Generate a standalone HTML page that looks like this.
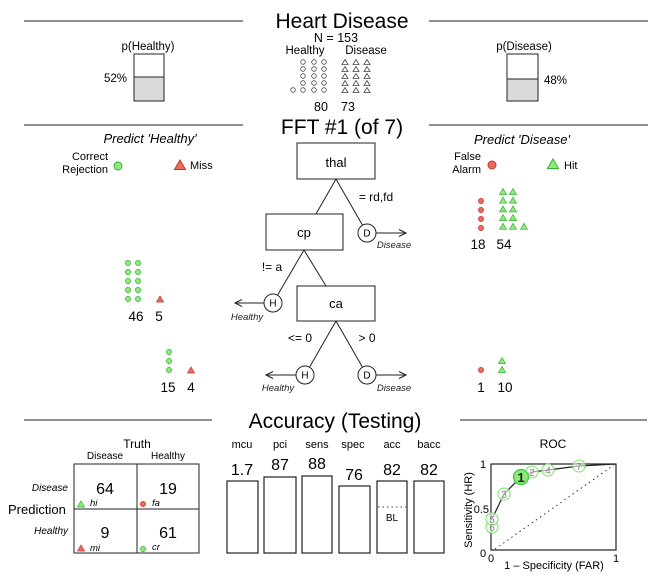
<!DOCTYPE html>
<html>
<head>
<meta charset="utf-8">
<style>
html,body{margin:0;padding:0;background:#fff;}
svg{display:block;font-family:"Liberation Sans",Arial,sans-serif;}
</style>
</head>
<body>
<svg width="672" height="576" viewBox="0 0 672 576" xmlns="http://www.w3.org/2000/svg">
<g stroke="#222" stroke-width="1">
  <line x1="24" y1="21" x2="243" y2="21"/>
  <line x1="429" y1="21" x2="648" y2="21"/>
  <line x1="24" y1="125" x2="243" y2="125"/>
  <line x1="429" y1="125" x2="648" y2="125"/>
  <line x1="24" y1="420" x2="212" y2="420"/>
  <line x1="460" y1="420" x2="647" y2="420"/>
</g>

<!-- Titles -->
<text x="342" y="28" font-size="21" text-anchor="middle" fill="#000">Heart Disease</text>
<text x="342" y="134" font-size="21" text-anchor="middle" fill="#000">FFT #1 (of 7)</text>
<text x="335" y="428" font-size="21" text-anchor="middle" fill="#000">Accuracy (Testing)</text>

<!-- N section -->
<text x="336" y="42" font-size="12.5" text-anchor="middle">N = 153</text>
<text x="305" y="54" font-size="11.5" text-anchor="middle">Healthy</text>
<text x="366" y="54" font-size="11.5" text-anchor="middle">Disease</text>
<g fill="none" stroke="#444" stroke-width="0.8">
  <circle cx="303" cy="62" r="2.3"/><circle cx="314" cy="62" r="2.3"/><circle cx="324" cy="62" r="2.3"/>
  <circle cx="303" cy="69" r="2.3"/><circle cx="314" cy="69" r="2.3"/><circle cx="324" cy="69" r="2.3"/>
  <circle cx="303" cy="76" r="2.3"/><circle cx="314" cy="76" r="2.3"/><circle cx="324" cy="76" r="2.3"/>
  <circle cx="303" cy="83" r="2.3"/><circle cx="314" cy="83" r="2.3"/><circle cx="324" cy="83" r="2.3"/>
  <circle cx="293" cy="90" r="2.3"/><circle cx="303" cy="90" r="2.3"/><circle cx="314" cy="90" r="2.3"/><circle cx="324" cy="90" r="2.3"/>
  <g id="trow">
    <polygon points="342,64.5 348,64.5 345,59.5"/><polygon points="353,64.5 359,64.5 356,59.5"/><polygon points="364,64.5 370,64.5 367,59.5"/>
  </g>
  <use href="#trow" y="7"/>
  <use href="#trow" y="14"/>
  <use href="#trow" y="21"/>
  <use href="#trow" y="28"/>
</g>
<text x="321" y="111" font-size="12.5" text-anchor="middle">80</text>
<text x="348" y="111" font-size="12.5" text-anchor="middle">73</text>

<!-- p(Healthy) -->
<text x="148" y="50" font-size="11.5" text-anchor="middle">p(Healthy)</text>
<rect x="134" y="77" width="30" height="24" fill="#d9d9d9"/>
<rect x="134" y="54" width="30" height="47" fill="none" stroke="#222" stroke-width="1"/>
<line x1="134" y1="77" x2="164" y2="77" stroke="#222"/>
<text x="127" y="82" font-size="11.5" text-anchor="end">52%</text>

<!-- p(Disease) -->
<text x="524" y="50" font-size="11.5" text-anchor="middle">p(Disease)</text>
<rect x="507" y="79" width="31" height="22" fill="#d9d9d9"/>
<rect x="507" y="54" width="31" height="47" fill="none" stroke="#222" stroke-width="1"/>
<line x1="507" y1="79" x2="538" y2="79" stroke="#222"/>
<text x="544" y="84" font-size="11.5">48%</text>

<!-- Predict labels -->
<text x="150" y="143" font-size="13" font-style="italic" text-anchor="middle">Predict 'Healthy'</text>
<text x="522" y="144" font-size="13" font-style="italic" text-anchor="middle">Predict 'Disease'</text>
<text x="108" y="160" font-size="11" text-anchor="end">Correct</text>
<text x="108" y="173" font-size="11" text-anchor="end">Rejection</text>
<circle cx="118" cy="166" r="4" fill="#92e67f" stroke="#2fb52f" stroke-width="1"/>
<polygon points="174.5,169.5 185.5,169.5 180,160" fill="#ee6a5c" stroke="#c0392b" stroke-width="1"/>
<text x="190" y="169" font-size="11">Miss</text>
<text x="481" y="160" font-size="11" text-anchor="end">False</text>
<text x="481" y="173" font-size="11" text-anchor="end">Alarm</text>
<circle cx="492" cy="165" r="4" fill="#ee6a5c" stroke="#c0392b" stroke-width="1"/>
<polygon points="547.5,168.5 558.5,168.5 553,159" fill="#92e67f" stroke="#2fb52f" stroke-width="1"/>
<text x="564" y="169" font-size="11">Hit</text>

<!-- Right icons (thal -> D) -->
<g fill="#ee6a5c" stroke="#c0392b" stroke-width="0.7">
  <circle cx="481" cy="201" r="2.6"/><circle cx="481" cy="210" r="2.6"/><circle cx="481" cy="219" r="2.6"/><circle cx="481" cy="228" r="2.6"/>
  <circle cx="481" cy="370" r="2.6"/>
</g>
<g fill="#92e67f" stroke="#2fb52f" stroke-width="0.7">
  <g id="gt2">
    <polygon points="499.5,194.5 506.5,194.5 503,188.5"/><polygon points="509.5,194.5 516.5,194.5 513,188.5"/>
  </g>
  <use href="#gt2" y="8.7"/>
  <use href="#gt2" y="17.4"/>
  <use href="#gt2" y="26.1"/>
  <use href="#gt2" y="34.8"/>
  <polygon points="520.5,229.3 527.5,229.3 524,223.3"/>
  <polygon points="498.5,363.5 505.5,363.5 502,357.5"/>
  <polygon points="498.5,372.5 505.5,372.5 502,366.5"/>
</g>
<text x="478" y="249" font-size="13.5" text-anchor="middle">18</text>
<text x="504" y="249" font-size="13.5" text-anchor="middle">54</text>
<text x="481" y="392" font-size="13.5" text-anchor="middle">1</text>
<text x="505" y="392" font-size="13.5" text-anchor="middle">10</text>

<!-- Left icons -->
<g fill="#92e67f" stroke="#2fb52f" stroke-width="0.7">
  <circle cx="128" cy="263" r="2.6"/><circle cx="138" cy="263" r="2.6"/>
  <circle cx="128" cy="272" r="2.6"/><circle cx="138" cy="272" r="2.6"/>
  <circle cx="128" cy="281" r="2.6"/><circle cx="138" cy="281" r="2.6"/>
  <circle cx="128" cy="290" r="2.6"/><circle cx="138" cy="290" r="2.6"/>
  <circle cx="128" cy="299" r="2.6"/><circle cx="138" cy="299" r="2.6"/>
  <circle cx="169" cy="352" r="2.6"/><circle cx="169" cy="361" r="2.6"/><circle cx="169" cy="370" r="2.6"/>
</g>
<g fill="#ee6a5c" stroke="#c0392b" stroke-width="0.7">
  <polygon points="156.5,302 163.5,302 160,296"/>
  <polygon points="187.5,373 194.5,373 191,367"/>
</g>
<text x="136" y="321" font-size="13.5" text-anchor="middle">46</text>
<text x="159" y="321" font-size="13.5" text-anchor="middle">5</text>
<text x="168" y="392" font-size="13.5" text-anchor="middle">15</text>
<text x="191" y="392" font-size="13.5" text-anchor="middle">4</text>

<!-- Tree -->
<g stroke="#222" stroke-width="1" fill="#fff">
  <line x1="336" y1="179" x2="316" y2="214"/>
  <line x1="336" y1="179" x2="362.5" y2="225.2"/>
  <line x1="304" y1="250" x2="277.5" y2="295.2"/>
  <line x1="304" y1="250" x2="326" y2="286"/>
  <line x1="336" y1="321" x2="309.5" y2="367.2"/>
  <line x1="336" y1="321" x2="362.5" y2="367.2"/>
  <rect x="297" y="143" width="78" height="36"/>
  <rect x="266" y="214" width="77" height="36"/>
  <rect x="297" y="286" width="78" height="35"/>
  <circle cx="367" cy="233" r="9"/>
  <circle cx="273" cy="303" r="9"/>
  <circle cx="305" cy="375" r="9"/>
  <circle cx="367" cy="375" r="9"/>
  <g fill="none">
    <line x1="376" y1="233" x2="406" y2="233"/><polyline points="399,229.5 406,233 399,236.5"/>
    <line x1="264" y1="303" x2="235" y2="303"/><polyline points="242,299.5 235,303 242,306.5"/>
    <line x1="296" y1="375" x2="266" y2="375"/><polyline points="273,371.5 266,375 273,378.5"/>
    <line x1="376" y1="375" x2="406" y2="375"/><polyline points="399,371.5 406,375 399,378.5"/>
  </g>
</g>
<text x="336" y="167" font-size="13" text-anchor="middle">thal</text>
<text x="304" y="237" font-size="13" text-anchor="middle">cp</text>
<text x="336" y="308" font-size="13" text-anchor="middle">ca</text>
<g font-size="10" text-anchor="middle">
  <text x="367" y="236.5">D</text>
  <text x="273" y="306.5">H</text>
  <text x="305" y="378.5">H</text>
  <text x="367" y="378.5">D</text>
</g>
<text x="376" y="201" font-size="12" text-anchor="middle">= rd,fd</text>
<text x="272" y="271" font-size="12" text-anchor="middle">!= a</text>
<text x="300" y="342" font-size="12" text-anchor="middle">&lt;= 0</text>
<text x="367" y="342" font-size="12" text-anchor="middle">&gt; 0</text>
<g font-size="9.5" font-style="italic" text-anchor="middle" fill="#222">
  <text x="394" y="248">Disease</text>
  <text x="247" y="320">Healthy</text>
  <text x="278" y="391">Healthy</text>
  <text x="394" y="391">Disease</text>
</g>

<!-- Confusion matrix -->
<text x="137" y="448" font-size="12" text-anchor="middle">Truth</text>
<text x="105" y="459" font-size="10" text-anchor="middle">Disease</text>
<text x="168" y="459" font-size="10" text-anchor="middle">Healthy</text>
<rect x="74" y="464" width="125" height="89" fill="none" stroke="#222" stroke-width="1"/>
<line x1="137" y1="464" x2="137" y2="553" stroke="#222"/>
<line x1="74" y1="509" x2="199" y2="509" stroke="#222"/>
<text x="105" y="494" font-size="16" text-anchor="middle">64</text>
<text x="168" y="494" font-size="16" text-anchor="middle">19</text>
<text x="105" y="538" font-size="16" text-anchor="middle">9</text>
<text x="168" y="538" font-size="16" text-anchor="middle">61</text>
<text x="68" y="491" font-size="10" font-style="italic" text-anchor="end">Disease</text>
<text x="68" y="534" font-size="10" font-style="italic" text-anchor="end">Healthy</text>
<text x="8" y="514" font-size="13">Prediction</text>
<polygon points="77.5,507 84.5,507 81,501" fill="#92e67f" stroke="#2fb52f" stroke-width="0.7"/>
<circle cx="143" cy="504" r="2.6" fill="#ee6a5c" stroke="#c0392b" stroke-width="0.7"/>
<polygon points="77.5,551 84.5,551 81,545" fill="#ee6a5c" stroke="#c0392b" stroke-width="0.7"/>
<circle cx="143" cy="549" r="2.6" fill="#92e67f" stroke="#2fb52f" stroke-width="0.7"/>
<g font-size="9.5" font-style="italic">
  <text x="90" y="506">hi</text>
  <text x="152" y="506">fa</text>
  <text x="90" y="551">mi</text>
  <text x="152" y="550">cr</text>
</g>

<!-- Accuracy bars -->
<g font-size="11" text-anchor="middle">
  <text x="242" y="448">mcu</text>
  <text x="280" y="448">pci</text>
  <text x="317" y="448">sens</text>
  <text x="353" y="448">spec</text>
  <text x="392" y="448">acc</text>
  <text x="429" y="448">bacc</text>
</g>
<g font-size="16" text-anchor="middle">
  <text x="242" y="475">1.7</text>
  <text x="280" y="470">87</text>
  <text x="317" y="469">88</text>
  <text x="354" y="480">76</text>
  <text x="392" y="475">82</text>
  <text x="429" y="475">82</text>
</g>
<g fill="#fff" stroke="#222" stroke-width="1.2">
  <rect x="227" y="481" width="31" height="72"/>
  <rect x="264" y="477" width="32" height="76"/>
  <rect x="302" y="476" width="30" height="77"/>
  <rect x="339" y="486" width="31" height="67"/>
  <rect x="377" y="481" width="30" height="72"/>
  <rect x="414" y="481" width="30" height="72"/>
</g>
<line x1="378" y1="507" x2="406" y2="507" stroke="#444" stroke-width="1" stroke-dasharray="1.5,3"/>
<text x="392" y="521" font-size="10" text-anchor="middle">BL</text>

<!-- ROC -->
<text x="553" y="448" font-size="12" text-anchor="middle">ROC</text>
<rect x="491" y="464" width="125" height="86" fill="none" stroke="#222" stroke-width="1.2"/>
<line x1="495" y1="549" x2="614" y2="465" stroke="#333" stroke-width="1" stroke-dasharray="1.5,3.5"/>
<polyline points="492,519 504,494 521,477 532,472 548,470 579,466 616,464" fill="none" stroke="#222" stroke-width="1.2"/>
<g fill="#fff" fill-opacity="0.6" stroke="#7ee86a" stroke-width="1.1">
  <circle cx="492" cy="527" r="6"/>
  <circle cx="492" cy="519" r="6"/>
  <circle cx="504" cy="494" r="6"/>
  <circle cx="532" cy="472" r="6"/>
  <circle cx="548" cy="470" r="6"/>
  <circle cx="579" cy="466" r="6"/>
</g>
<circle cx="521" cy="477" r="7.5" fill="#8ee87a" stroke="#3cc83c" stroke-width="1.2"/>
<g font-size="10" text-anchor="middle" fill="#888">
  <text x="492" y="531">6</text>
  <text x="492" y="523">5</text>
  <text x="504" y="498">3</text>
  <text x="532" y="476">2</text>
  <text x="548" y="474">4</text>
  <text x="579" y="470">7</text>
</g>
<text x="521" y="482" font-size="13" font-weight="bold" text-anchor="middle" fill="#222">1</text>
<g font-size="11" fill="#000">
  <text x="483" y="468" text-anchor="middle">1</text>
  <text x="489" y="513" text-anchor="end">0.5</text>
  <text x="483" y="557" text-anchor="middle">0</text>
  <text x="491" y="562" text-anchor="middle">0</text>
  <text x="616" y="562" text-anchor="middle">1</text>
</g>
<text x="554" y="569" font-size="11" text-anchor="middle">1 – Specificity (FAR)</text>
<text transform="translate(472,510) rotate(-90)" font-size="11" text-anchor="middle">Sensitivity (HR)</text>
</svg>
</body>
</html>
